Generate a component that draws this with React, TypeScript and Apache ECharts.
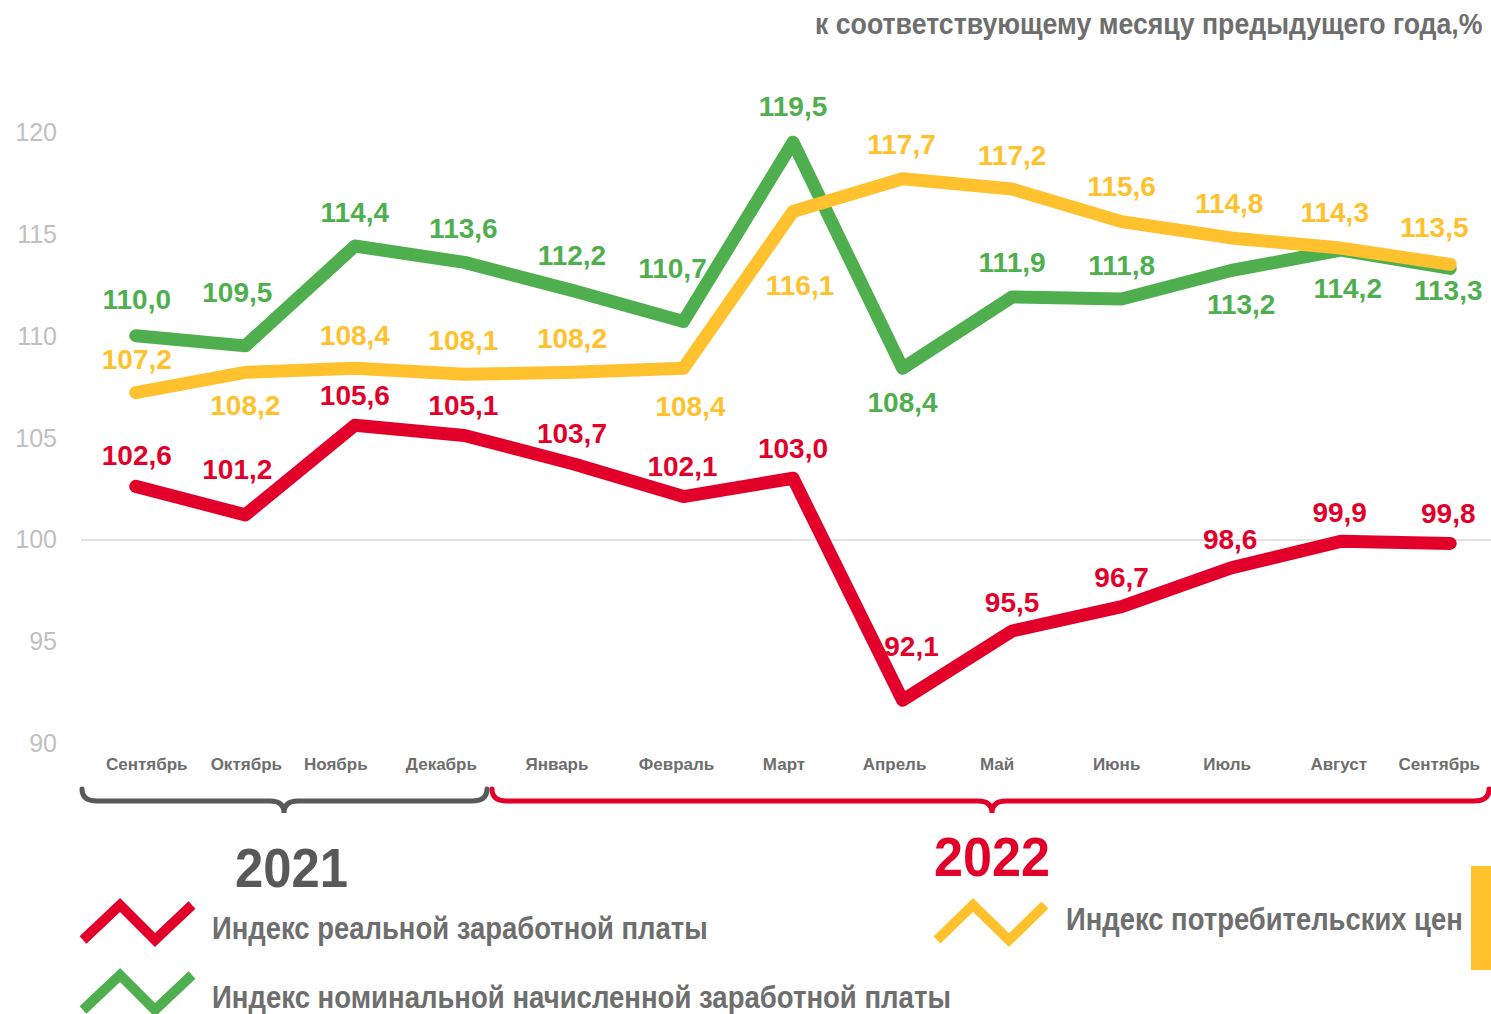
import React, { useEffect, useRef } from "react";
import * as echarts from "echarts";

const months = ["Сентябрь", "Октябрь", "Ноябрь", "Декабрь", "Январь", "Февраль", "Март", "Апрель", "Май", "Июнь", "Июль", "Август", "Сентябрь"];
const realWage = [102.6, 101.2, 105.6, 105.1, 103.7, 102.1, 103.0, 92.1, 95.5, 96.7, 98.6, 99.9, 99.8];
const nominalWage = [110.0, 109.5, 114.4, 113.6, 112.2, 110.7, 119.5, 108.4, 111.9, 111.8, 113.2, 114.2, 113.3];
const cpi = [107.2, 108.2, 108.4, 108.1, 108.2, 108.4, 116.1, 117.7, 117.2, 115.6, 114.8, 114.3, 113.5];
const yTicks = [90, 95, 100, 105, 110, 115, 120];
const baseLine = 100;

const seriesNames = ["Индекс реальной заработной платы", "Индекс номинальной начисленной заработной платы", "Индекс потребительских цен"];
const titleText = "к соответствующему месяцу предыдущего года,%";
const yearLabels = ["2021", "2022"];

// label placement (layout only): [dx, dy] from the point
const realLabelOffsets = [[1, -31], [-8, -45], [0, -30], [-1, -30], [-2, -30], [-1, -30], [0, -30], [9, -54], [0, -28], [0, -29], [-1, -28], [-1, -29], [-2, -30]];
const nominalLabelOffsets = [[1, -36], [-8, -53], [0, -34], [-1, -34], [-2, -35], [-11, -53], [0, -36], [0, 34], [0, -34], [0, -34], [10, 34], [7, 38], [-2, 22]];
const cpiLabelOffsets = [[1, -33], [0, 33], [0, -33], [-1, -34], [-2, -34], [7, 38], [7, 74], [-1, -34], [0, -34], [0, -35], [-2, -34], [-6, -36], [-16, -37]];
const monthLabelShift = [11, 1, -19, -23, -17, -7, -9, -8, -15, -5, -4, -2, -11];

const RED = "#E2002B";
const GREEN = "#4FAF4F";
const YELLOW = "#FFC22E";
const GRAY_TEXT = "#6E6E6E";
const FONT = "'Liberation Sans', Arial, sans-serif";

const PAGE_W = 1491;
const PAGE_H = 1014;
const CHART_W = 1506;

function fitScale(text: string, font: string, target: number): number {
  const ctx = document.createElement("canvas").getContext("2d");
  if (!ctx) return 1;
  ctx.font = font;
  const w = ctx.measureText(text).width;
  return w > 0 ? target / w : 1;
}

function fmt(v: number) {
  return v.toFixed(1).replace(".", ",");
}

function makeSeries(name: string, values: number[], color: string, offsets: number[][], z: number) {
  return {
    name,
    type: "line",
    z,
    data: values.map((v, i) => ({
      value: v,
      label: { offset: offsets[i] },
    })),
    symbol: "circle",
    symbolSize: 2,
    showSymbol: true,
    itemStyle: { color },
    lineStyle: { color, width: 13, cap: "round", join: "round" },
    label: {
      show: true,
      position: "inside",
      formatter: (p: any) => fmt(p.value),
      color,
      fontFamily: FONT,
      fontWeight: "bold",
      fontSize: 28,
    },
    emphasis: { disabled: true },
  };
}

function bracePath(x0: number, x1: number, xc: number, yTop: number, yMid: number, yTip: number) {
  const r = 15;
  return `M${x0} ${yTop} Q${x0} ${yMid} ${x0 + r} ${yMid} L${xc - 14} ${yMid} Q${xc} ${yMid} ${xc} ${yTip} Q${xc} ${yMid} ${xc + 14} ${yMid} L${x1 - r} ${yMid} Q${x1} ${yMid} ${x1} ${yTop}`;
}

export default function App() {
  const ref = useRef<HTMLDivElement>(null);
  useEffect(() => {
    if (!ref.current) return;
    echarts.graphic.registerShape("brace2021", echarts.graphic.extendPath(bracePath(82, 487, 284, 789, 801, 813), {}) as any);
    echarts.graphic.registerShape("brace2022", echarts.graphic.extendPath(bracePath(492, 1489, 992, 789, 801, 813), {}) as any);
    const chart = echarts.init(ref.current, null, { renderer: "svg" });

    const titleFont = `bold 30px ${FONT}`;
    const legendFont = `bold 32px ${FONT}`;
    const yearFont = `bold 56px ${FONT}`;

    const legendText = (text: string, x: number, y: number, w: number) => ({
      type: "text",
      x,
      y,
      scaleX: fitScale(text, legendFont, w),
      style: { text, font: legendFont, fill: GRAY_TEXT, align: "left", verticalAlign: "middle" },
    });

    const option: any = {
      animation: false,
      backgroundColor: "#FFFFFF",
      grid: { left: 81, top: 132, width: 1424, height: 611, containLabel: false },
      xAxis: {
        type: "category",
        boundaryGap: true,
        data: months.map((m, i) => {
          const s = monthLabelShift[i];
          return {
            value: m,
            textStyle: { padding: s >= 0 ? [0, 0, 0, 2 * s] : [0, -2 * s, 0, 0] },
          };
        }),
        axisLine: { show: false },
        axisTick: { show: false },
        splitLine: { show: false },
        axisLabel: {
          interval: 0,
          margin: 13,
          color: GRAY_TEXT,
          fontFamily: FONT,
          fontWeight: "bold",
          fontSize: 17,
        },
      },
      yAxis: {
        type: "value",
        min: yTicks[0],
        max: yTicks[yTicks.length - 1],
        interval: 5,
        axisLine: { show: false },
        axisTick: { show: false },
        splitLine: { show: false },
        axisLabel: { margin: 24, color: "#C0C0C0", fontFamily: FONT, fontSize: 25 },
      },
      series: [
        {
          type: "line",
          data: [],
          z: 1,
          markLine: {
            z: 1,
            silent: true,
            symbol: "none",
            label: { show: false },
            lineStyle: { color: "#D9D9D9", width: 1.5, type: "solid" },
            data: [{ yAxis: baseLine }],
          },
        },
        makeSeries(seriesNames[1], nominalWage, GREEN, nominalLabelOffsets, 2),
        makeSeries(seriesNames[2], cpi, YELLOW, cpiLabelOffsets, 3),
        makeSeries(seriesNames[0], realWage, RED, realLabelOffsets, 4),
      ],
      graphic: [
        {
          type: "text",
          x: 815,
          y: 23,
          scaleX: fitScale(titleText, titleFont, 668),
          style: { text: titleText, font: titleFont, fill: GRAY_TEXT, align: "left", verticalAlign: "middle" },
        },
        { type: "brace2021", x: 0, y: 0, style: { fill: "none", stroke: "#595959", lineWidth: 5, lineCap: "round" } },
        { type: "brace2022", x: 0, y: 0, style: { fill: "none", stroke: RED, lineWidth: 5, lineCap: "round" } },
        {
          type: "text",
          x: 235,
          y: 868,
          scaleX: fitScale(yearLabels[0], yearFont, 113),
          style: { text: yearLabels[0], font: yearFont, fill: "#595959", align: "left", verticalAlign: "middle" },
        },
        {
          type: "text",
          x: 934,
          y: 856,
          scaleX: fitScale(yearLabels[1], yearFont, 116),
          style: { text: yearLabels[1], font: yearFont, fill: RED, align: "left", verticalAlign: "middle" },
        },
        { type: "polyline", shape: { points: [[83, 940], [120, 905], [155, 940], [192, 905]] }, style: { stroke: RED, lineWidth: 10, fill: "none", lineJoin: "miter" } },
        { type: "polyline", shape: { points: [[83, 1010], [120, 975], [155, 1010], [192, 975]] }, style: { stroke: GREEN, lineWidth: 10, fill: "none", lineJoin: "miter" } },
        { type: "polyline", shape: { points: [[937, 940], [973, 905], [1009, 940], [1045, 905]] }, style: { stroke: YELLOW, lineWidth: 10, fill: "none", lineJoin: "miter" } },
        legendText(seriesNames[0], 212, 928, 496),
        legendText(seriesNames[1], 212, 997, 739),
        legendText(seriesNames[2], 1066, 919, 397),
        { type: "rect", shape: { x: 1471, y: 866, width: 20, height: 104 }, style: { fill: YELLOW } },
      ],
    };
    chart.setOption(option);
    return () => chart.dispose();
  }, []);
  return (
    <div style={{ position: "absolute", left: 0, top: 0, width: PAGE_W, height: PAGE_H, overflow: "hidden", background: "#FFFFFF" }}>
      <div ref={ref} style={{ width: CHART_W, height: PAGE_H }} />
    </div>
  );
}
